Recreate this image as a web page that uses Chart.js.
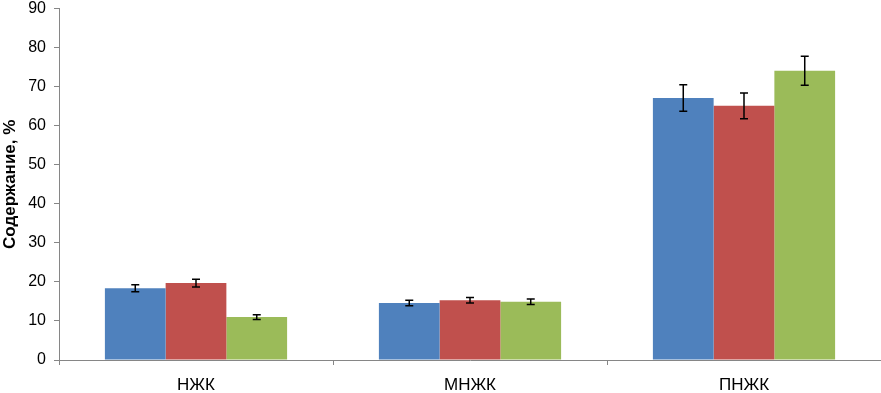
<!DOCTYPE html>
<html><head><meta charset="utf-8">
<script src="https://cdn.jsdelivr.net/npm/chart.js@4/dist/chart.umd.min.js"></script>
<style>html,body{margin:0;padding:0;background:#fff;overflow:hidden}#wrap{width:881px;height:393px;overflow:hidden;position:relative}#c{position:absolute;left:0;top:-9px}</style>
</head><body><div id="wrap"><canvas id="c" width="881" height="402"></canvas></div>
<script>
const categories = ['НЖК', 'МНЖК', 'ПНЖК'];
const series1 = [18.4, 14.6, 67.1];
const series2 = [19.7, 15.3, 65.1];
const series3 = [11.0, 14.9, 74.1];
const err1 = [0.9, 0.7, 3.4];
const err2 = [1.0, 0.7, 3.3];
const err3 = [0.6, 0.7, 3.7];
const yTicks = [0, 10, 20, 30, 40, 50, 60, 70, 80, 90];
const errs = [err1, err2, err3];

const errorBars = {
  id: 'errorBars',
  afterDatasetsDraw(chart) {
    const ctx = chart.ctx, y = chart.scales.y;
    ctx.save();
    ctx.strokeStyle = '#000';
    ctx.lineWidth = 1.5;
    chart.data.datasets.forEach((ds, i) => {
      const meta = chart.getDatasetMeta(i);
      meta.data.forEach((bar, j) => {
        const v = ds.data[j], e = errs[i][j];
        const yt = y.getPixelForValue(v + e), yb = y.getPixelForValue(v - e);
        const x = bar.x, w = 4;
        ctx.beginPath();
        ctx.moveTo(x, yt); ctx.lineTo(x, yb);
        ctx.moveTo(x - w, yt); ctx.lineTo(x + w, yt);
        ctx.moveTo(x - w, yb); ctx.lineTo(x + w, yb);
        ctx.stroke();
      });
    });
    ctx.restore();
  }
};

const font = "'Liberation Sans Narrow', 'Arial Narrow', 'Liberation Sans', Arial, sans-serif";
new Chart(document.getElementById('c'), {
  type: 'bar',
  data: {
    labels: categories,
    datasets: [
      { data: series1, backgroundColor: '#4F81BD' },
      { data: series2, backgroundColor: '#C0504D' },
      { data: series3, backgroundColor: '#9BBB59' }
    ]
  },
  options: {
    responsive: false,
    animation: false,
    devicePixelRatio: 1,
    layout: { padding: { top: 0, right: 0, left: 0, bottom: 0 } },
    plugins: { legend: { display: false }, tooltip: { enabled: false } },
    datasets: { bar: { categoryPercentage: 0.665, barPercentage: 1.0 } },
    scales: {
      x: {
        grid: { offset: true, drawOnChartArea: false, drawTicks: true, tickLength: 5, color: '#868686' },
        border: { color: '#868686', width: 1 },
        ticks: { color: '#000', font: { family: font, size: 17 }, padding: 10 },
        afterFit(axis) { axis.height = 33; }
      },
      y: {
        min: 0, max: 90,
        afterBuildTicks(axis) { axis.ticks = yTicks.map(v => ({ value: v })); },
        afterFit(axis) { axis.width = 59; },
        grid: { drawOnChartArea: false, drawTicks: true, tickLength: 5, color: '#868686' },
        border: { color: '#868686', width: 1 },
        ticks: { color: '#000', font: { family: font, size: 16 }, padding: 8 },
        title: { display: true, text: 'Содержание, %', color: '#000', font: { family: "'Liberation Sans', Arial, sans-serif", size: 17, weight: 'bold' }, padding: { top: 0, bottom: 2 } }
      }
    }
  },
  plugins: [errorBars]
});
</script></body></html>
